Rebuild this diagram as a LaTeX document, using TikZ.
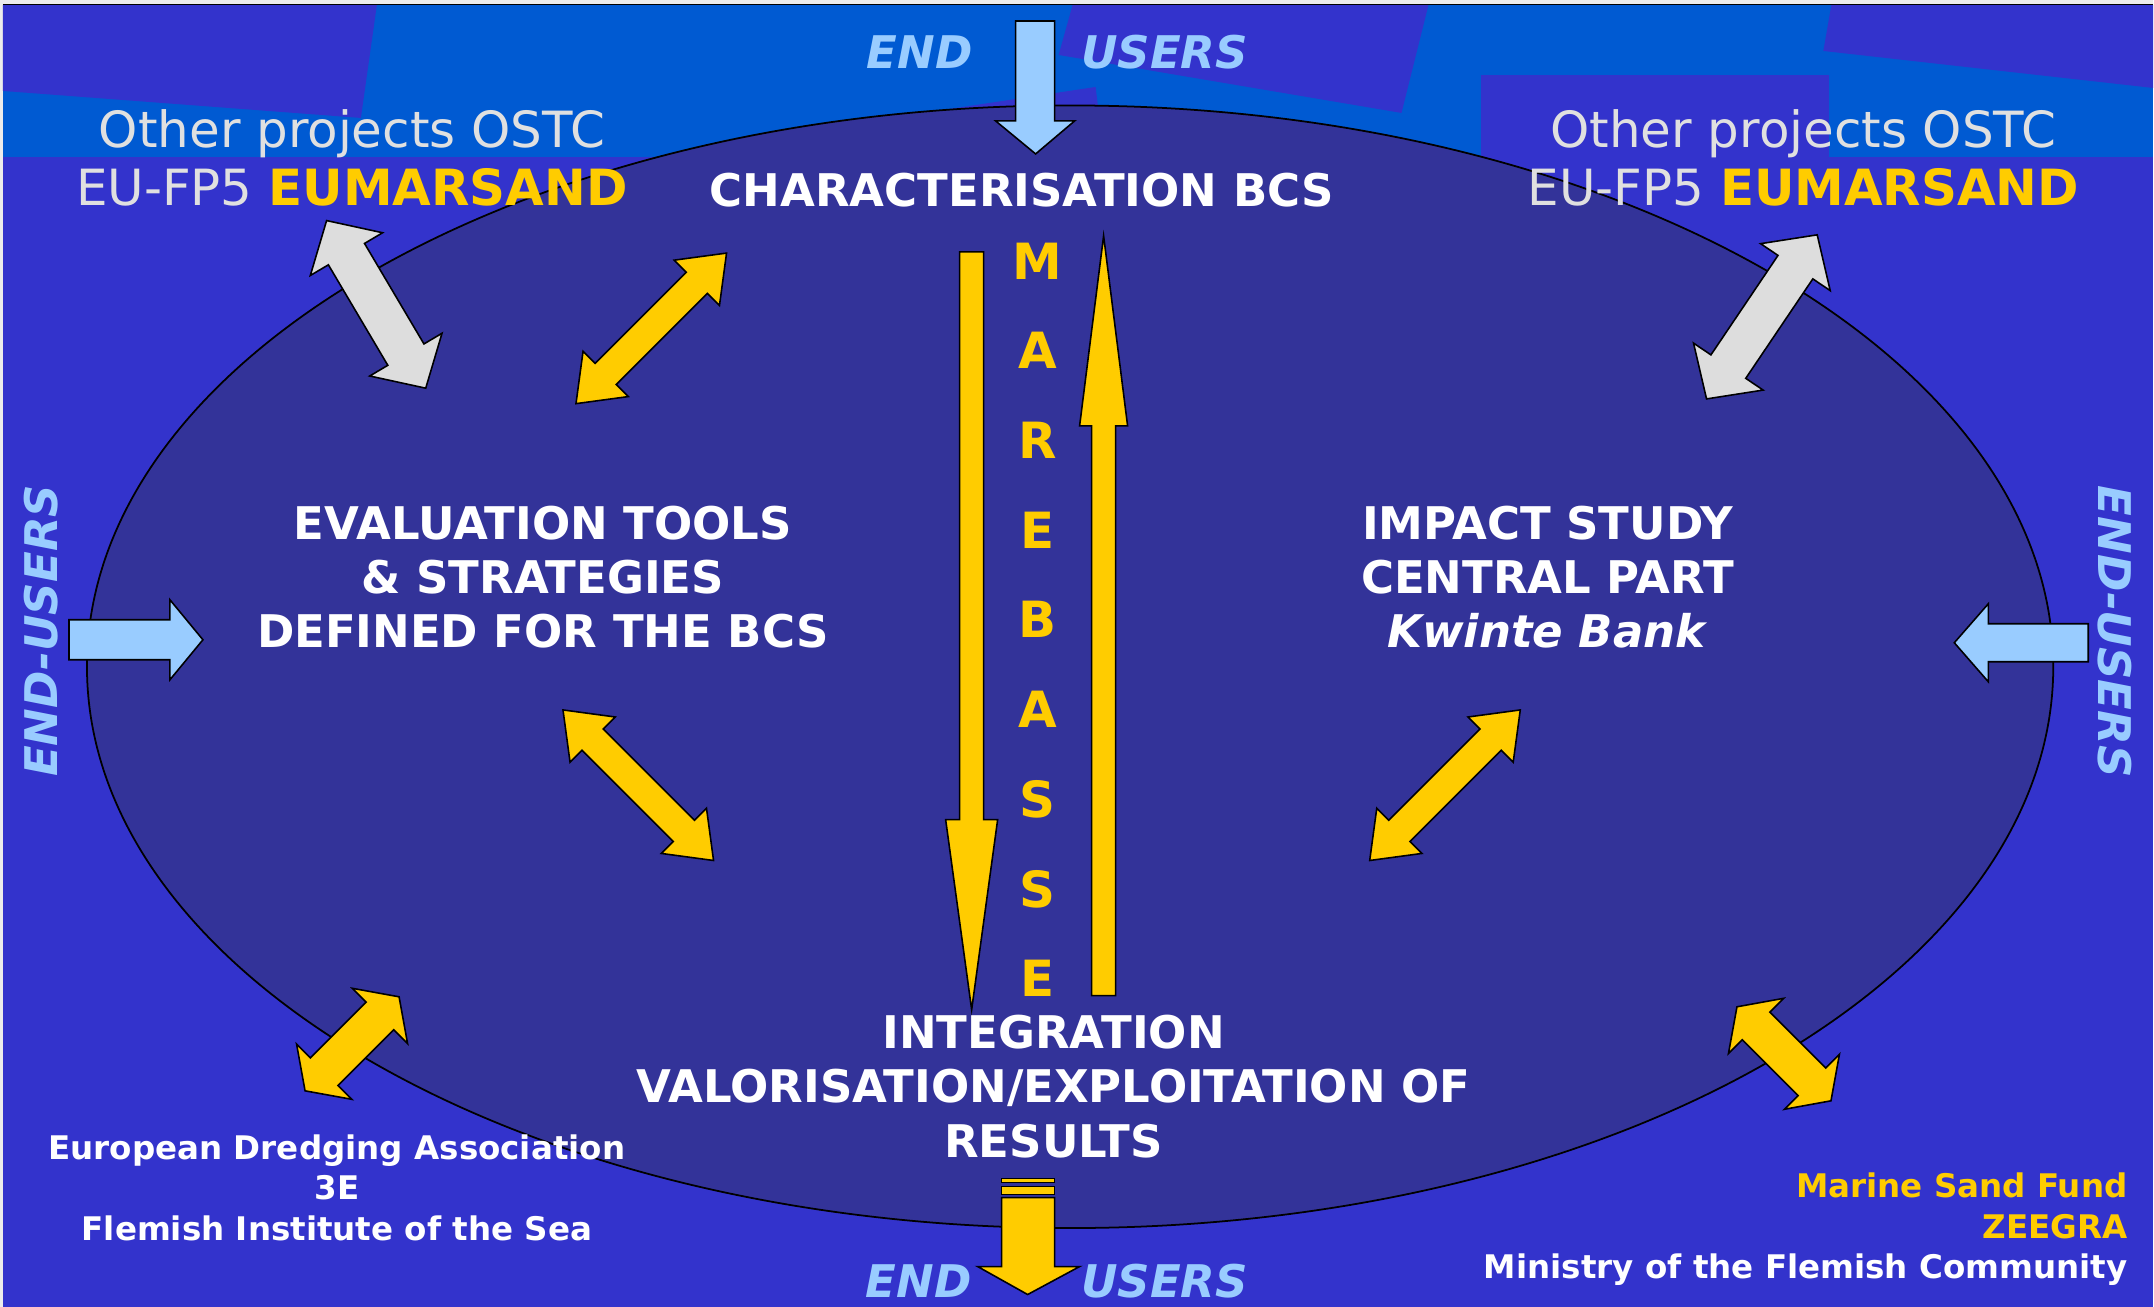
\documentclass[tikz,border=0pt]{standalone}
\usepackage{fontspec}
\setmainfont{DejaVu Sans}

\definecolor{bandblue}{RGB}{0,90,210}
\definecolor{backblue}{RGB}{51,51,204}
\definecolor{ovalblue}{RGB}{51,51,153}
\definecolor{sandgold}{RGB}{255,204,0}
\definecolor{userblue}{RGB}{153,204,255}
\definecolor{ostcgray}{RGB}{224,224,224}
\definecolor{arrowgray}{RGB}{221,221,221}
\definecolor{stripgray}{RGB}{236,236,236}

% #1 fill, #2 centre, #3 angle, #4 half length, #5 head length, #6 head half width, #7 shaft half width
\newcommand{\dblarrow}[7]{%
  \begin{scope}[shift={#2},rotate=#3]
    \filldraw[fill=#1,outline] (-#4,0) -- (-#4+#5,#6) -- (-#4+#5,#7) -- (#4-#5,#7) -- (#4-#5,#6) -- (#4,0)
      -- (#4-#5,-#6) -- (#4-#5,-#7) -- (-#4+#5,-#7) -- (-#4+#5,-#6) -- cycle;
  \end{scope}}

\begin{document}
\begin{tikzpicture}[x=0.01cm,y=-0.01cm,
    outline/.style={draw=black,line width=0.45pt,line join=miter},
    boxtext/.style={text=white,font=\bfseries\fontsize{12.8}{15.4}\selectfont,align=center,inner sep=0pt},
    ostc/.style={text=ostcgray,font=\fontsize{14.2}{16}\selectfont,inner sep=0pt},
    enduser/.style={text=userblue,font=\bfseries\itshape\fontsize{12.8}{14}\selectfont,inner sep=0pt},
    partner/.style={font=\bfseries\fontsize{9.25}{11.5}\selectfont,align=center,inner sep=0pt},
    letter/.style={text=sandgold,font=\bfseries\fontsize{14.2}{16}\selectfont,inner sep=0pt}]

  \fill[stripgray] (0,0) rectangle (2154,1307);
  \fill[bandblue] (3,5) rectangle (2154,157);
  \fill[backblue] (3,157) rectangle (2154,1307);
  \fill[backblue] (3,5) -- (377,5) -- (361,118) -- (3,91) -- cycle;
  \fill[backblue] (1073,5) -- (1429,5) -- (1402,113) -- (1059,55) -- cycle;
  \fill[backblue] (930,112) -- (1096,87) -- (1106,170) -- (930,170) -- cycle;
  \fill[backblue] (1482,75) rectangle (1830,157);
  \fill[backblue] (1832,5) -- (2154,5) -- (2154,88) -- (1824,51) -- cycle;
  \draw[line width=0.45pt] (3,4.7) -- (2154,4.7);

  \draw[fill=ovalblue,line width=0.5pt] (1070.5,667) ellipse [x radius=983.5, y radius=561.5];

  \filldraw[fill=userblue,outline] (1016,21) -- (1055,21) -- (1055,121) -- (1075,121) -- (1036,154) -- (996,121) -- (1016,121) -- cycle;
  \filldraw[fill=userblue,outline] (69,620) -- (170,620) -- (170,600) -- (203,640) -- (170,680) -- (170,660) -- (69,660) -- cycle;
  \filldraw[fill=userblue,outline] (2089,624) -- (1989,624) -- (1989,604) -- (1955,643) -- (1989,682) -- (1989,662) -- (2089,662) -- cycle;

  \node[enduser] (endtop) at (920,52) {END};
  \node[enduser] (userstop) at (1165,52) {USERS};
  \node[enduser] (endbot) at (919,1282) {END};
  \node[enduser] (usersbot) at (1165,1282) {USERS};
  \node[enduser,rotate=90] (endleft) at (41,631) {END-USERS};
  \node[enduser,rotate=-90] (endright) at (2116,632) {END-USERS};

  \node[ostc,anchor=base] (ostcleft) at (352,148) {Other projects OSTC};
  \node[ostc,anchor=base] (eumleft) at (352,206) {EU-FP5 \textbf{\textcolor{sandgold}{EUMARSAND}}};
  \node[ostc,anchor=base] (ostcright) at (1804,148) {Other projects OSTC};
  \node[ostc,anchor=base] (eumright) at (1804,206) {EU-FP5 \textbf{\textcolor{sandgold}{EUMARSAND}}};

  \node[boxtext] (charbcs) at (1022,190) {CHARACTERISATION BCS};
  \node[boxtext] (evaltools) at (543,577) {EVALUATION TOOLS\\ \& STRATEGIES\\ DEFINED FOR THE BCS};
  \node[boxtext] (impact) at (1548,577) {IMPACT STUDY\\ CENTRAL PART\\ \textit{Kwinte Bank}};
  \node[boxtext] (integration) at (1054,1087) {INTEGRATION\\ VALORISATION/EXPLOITATION OF\\ RESULTS};

  \foreach \ch [count=\i from 0] in {M,A,R,E,B,A,S,S,E}
    \node[letter] (mb\i) at (1038,{261+89.75*\i}) {\ch};

  \filldraw[fill=sandgold,outline] (960,252) -- (984,252) -- (984,820) -- (998,820) -- (972,1010) -- (946,820) -- (960,820) -- cycle;
  \filldraw[fill=sandgold,outline] (1092,996) -- (1116,996) -- (1116,426) -- (1128,426) -- (1104,236) -- (1080,426) -- (1092,426) -- cycle;

  \dblarrow{sandgold}{(651.5,328.5)}{45}{106.5}{42}{32}{15}
  \dblarrow{sandgold}{(638.5,785.5)}{-45}{106.5}{42}{32}{15}
  \dblarrow{sandgold}{(1445.5,785.5)}{45}{106.5}{42}{32}{15}
  \dblarrow{sandgold}{(352.2,1044.2)}{45}{66.5}{27}{39}{19.5}
  \dblarrow{sandgold}{(1784.6,1054.2)}{-45}{66.5}{27}{39}{19.5}
  \dblarrow{arrowgray}{(376.3,304.5)}{-59.4}{97.4}{39}{42}{21}
  \dblarrow{arrowgray}{(1762.5,317)}{-124}{99}{39}{42}{21}

  \filldraw[fill=sandgold,outline] (1002,1179) rectangle (1055,1183);
  \filldraw[fill=sandgold,outline] (1002,1187) rectangle (1055,1195);
  \filldraw[fill=sandgold,outline] (1002,1198) -- (1055,1198) -- (1055,1267) -- (1080,1267) -- (1028,1295) -- (978,1267) -- (1002,1267) -- cycle;

  \node[partner,text=white] (dredging) at (337,1188) {European Dredging Association\\ 3E\\ Flemish Institute of the Sea};
  \node[partner,text=white,align=right,anchor=east] (sandfund) at (2129,1230) {\textcolor{sandgold}{Marine Sand Fund}\\ \textcolor{sandgold}{ZEEGRA}\\ Ministry of the Flemish Community};
\end{tikzpicture}
\end{document}
